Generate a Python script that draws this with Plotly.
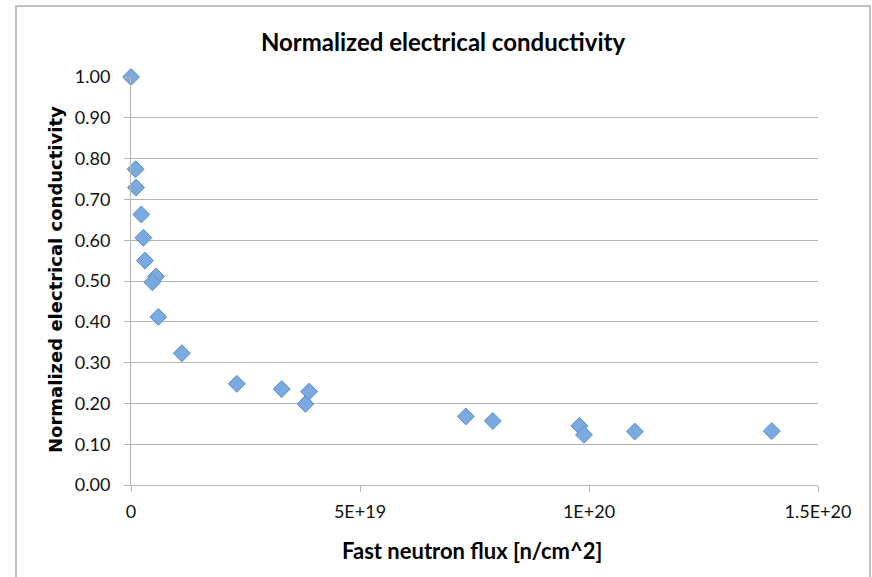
import plotly.graph_objects as go

flux = [0.0, 1.0e18, 1.1e18, 2.25e18, 2.7e18, 3.05e18, 5.45e18, 4.65e18, 5.96e18,
        11.1e18, 23.1e18, 32.9e18, 38.1e18, 38.9e18,
        73.1e18, 79.0e18, 97.9e18, 98.9e18, 110.0e18, 139.9e18]
conductivity = [1.00, 0.774, 0.729, 0.663, 0.606, 0.550, 0.511, 0.497, 0.412,
                0.323, 0.248, 0.235, 0.199, 0.229,
                0.168, 0.157, 0.145, 0.123, 0.131, 0.132]

x_tickvals = [0, 5e19, 1e20, 1.5e20]
x_ticktext = ["0", "5E+19", "1E+20", "1.5E+20"]
y_tickvals = [0.0, 0.1, 0.2, 0.3, 0.4, 0.5, 0.6, 0.7, 0.8, 0.9, 1.0]
y_ticktext = ["%.2f" % v for v in y_tickvals]

W, H = 872, 577
L, R, T, B = 131, 818, 77, 485

fig = go.Figure()
fig.add_trace(go.Scatter(
    x=flux, y=conductivity, mode="markers",
    marker=dict(symbol="diamond", size=13, color="#7aaae0",
                line=dict(color="#5a8ccc", width=1)),
    showlegend=False, cliponaxis=False))

grid = "#b4b4b4"
fig.update_layout(
    width=W, height=H,
    margin=dict(l=L, r=W - R, t=T, b=H - B),
    paper_bgcolor="white", plot_bgcolor="white",
    font=dict(family="Lato, Open Sans, sans-serif", color="#111111", size=18),
    title=dict(text="<b>Normalized electrical conductivity</b>", x=443 / W, xanchor="center",
               y=1 - 43 / H, yanchor="middle",
               font=dict(family="Lato, Open Sans, sans-serif", size=24, color="#000000")),
    xaxis=dict(range=[0, 1.5e20], tickvals=x_tickvals, ticktext=x_ticktext,
               showgrid=False, zeroline=False, showline=True, linecolor=grid, linewidth=1,
               ticks="outside", ticklen=6, tickcolor=grid, ticklabelstandoff=4,
               tickfont=dict(size=18, color="#111111")),
    yaxis=dict(range=[0, 1.0], tickvals=y_tickvals, ticktext=y_ticktext,
               showgrid=True, gridcolor=grid, gridwidth=1, zeroline=False,
               showline=True, linecolor=grid, linewidth=1,
               ticks="outside", ticklen=6, tickcolor=grid, ticklabelstandoff=10,
               tickfont=dict(size=18, color="#111111")),
    annotations=[
        dict(text="<b>Normalized electrical conductivity</b>", xref="paper", yref="paper",
             x=(55 - L) / (R - L), y=(B - 280) / (B - T), textangle=-90,
             showarrow=False, xanchor="center", yanchor="middle",
             font=dict(family="DejaVu Sans, Verdana, sans-serif", size=18, color="#000000")),
        dict(text="<b>Fast neutron flux [n/cm^2]</b>", xref="paper", yref="paper",
             x=(472 - L) / (R - L), y=(B - 550) / (B - T),
             showarrow=False, xanchor="center", yanchor="middle",
             font=dict(family="Lato, Open Sans, sans-serif", size=22, color="#000000")),
    ],
    shapes=[dict(type="rect", xref="paper", yref="paper",
                 x0=(16 - L) / (R - L), x1=(870 - L) / (R - L),
                 y0=(B - 600) / (B - T), y1=(B - 6) / (B - T),
                 line=dict(color="#c0c0c0", width=2), fillcolor="rgba(0,0,0,0)", layer="below")],
)

fig.write_html("out.html")
